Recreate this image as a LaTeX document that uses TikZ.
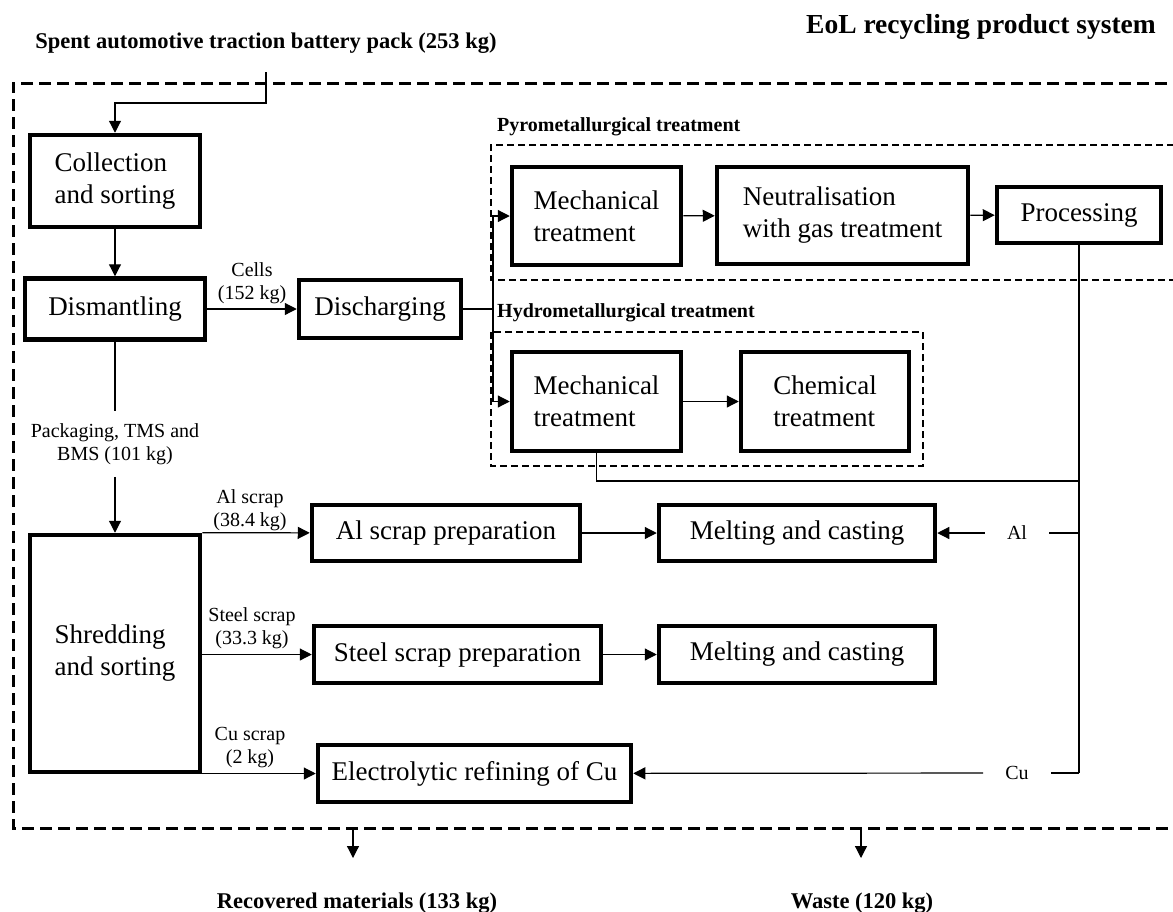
\documentclass[tikz,border=0pt]{standalone}
\usepackage{fontspec}
\setmainfont{Liberation Serif}
\usetikzlibrary{arrows.meta}
\begin{document}
\begin{tikzpicture}[x=1pt, y=-1pt,
    stage/.style={draw, line width=4.5pt, align=left, inner sep=0pt,
      font=\fontsize{27}{32}\selectfont},
    flow/.style={-{Triangle[length=12pt, width=12pt]}, line width=1.2pt},
    wire/.style={line width=1.2pt},
    tag/.style={align=center, font=\fontsize{20}{23}\selectfont},
    head/.style={font=\bfseries\fontsize{22.5}{26}\selectfont},
    groupname/.style={anchor=west, inner sep=0pt, font=\bfseries\fontsize{20}{24}\selectfont},
    bound/.style={line width=3pt, dash pattern=on 12pt off 6pt},
    subbound/.style={line width=2pt, dash pattern=on 7pt off 4pt}]
  \useasboundingbox (0,0) rectangle (1173,911);

  % Headings
  \node[head, font=\bfseries\fontsize{27.5}{32}\selectfont] (title) at (981,27) {EoL recycling product system};
  \node[head] (spent) at (266,43) {Spent automotive traction battery pack (253 kg)};

  % System boundary and treatment routes
  \draw[bound] (1185,83) -- (13,83) -- (13,828) -- (1185,828);
  \draw[subbound] (1185,145) -- (491,145) -- (491,280) -- (1185,280);
  \draw[subbound] (491,332) rectangle (923,466);
  \node[groupname] (pyro)  at (497,127) {Pyrometallurgical treatment};
  \node[groupname] (hydro) at (497,313) {Hydrometallurgical treatment};

  % Process steps
  \node[stage, minimum width=170pt, minimum height=92pt]  (coll)   at (115,181)     {Collection\\and sorting};
  \node[stage, minimum width=180pt, minimum height=61pt]  (dism)   at (115,309)     {Dismantling};
  \node[stage, minimum width=162pt, minimum height=58pt]  (disch)  at (380,309)     {Discharging};
  \node[stage, minimum width=169pt, minimum height=98pt]  (pmech)  at (596.5,216)   {Mechanical\\treatment};
  \node[stage, minimum width=251pt, minimum height=97pt]  (neut)   at (842.5,215.5) {Neutralisation\\with gas treatment};
  \node[stage, minimum width=164pt, minimum height=56pt]  (proc)   at (1079,215)    {Processing};
  \node[stage, minimum width=169pt, minimum height=99pt]  (hmech)  at (596.5,401.5) {Mechanical\\treatment};
  \node[stage, minimum width=168pt, minimum height=99pt]  (chem)   at (825,401.5)   {Chemical\\treatment};
  \node[stage, minimum width=170pt, minimum height=237pt] (shred)  at (115,653.5)   {Shredding\\and sorting};
  \node[stage, minimum width=268pt, minimum height=56pt]  (alprep) at (446,533)     {Al scrap preparation};
  \node[stage, minimum width=276pt, minimum height=56pt]  (melta)  at (797,533)     {Melting and casting};
  \node[stage, minimum width=287pt, minimum height=57pt]  (stprep) at (457.5,654.5) {Steel scrap preparation};
  \node[stage, minimum width=276pt, minimum height=57pt]  (meltb)  at (797,654.5)   {Melting and casting};
  \node[stage, minimum width=313pt, minimum height=57pt]  (elec)   at (474.5,773.5) {Electrolytic refining of Cu};

  % Flow labels
  \node[tag] (cells)   at (252,283) {Cells\\(152 kg)};
  \node[tag, inner ysep=12pt] (pack) at (115,444) {Packaging, TMS and\\BMS (101 kg)};
  \node[tag] (alscrap) at (250,510) {Al scrap\\(38.4 kg)};
  \node[tag] (stscrap) at (252,628) {Steel scrap\\(33.3 kg)};
  \node[tag] (cuscrap) at (250,748) {Cu scrap\\(2 kg)};
  \node[tag, inner xsep=22pt] (al) at (1017,533) {Al};
  \node[tag, inner xsep=22pt] (cu) at (1017,773) {Cu};
  \node[head] (recov) at (357,903) {Recovered materials (133 kg)};
  \node[head] (waste) at (862,903) {Waste (120 kg)};

  % Bends and free ends
  \coordinate (entry)     at (266,72);
  \coordinate (bend)      at (115,103);
  \coordinate (split)     at (493,309);
  \coordinate (join)      at (1079,481);
  \coordinate (alin)      at (1079,533);
  \coordinate (cuin)      at (1079,773);
  \coordinate (recovtop)  at (353,828);
  \coordinate (recovend)  at (353,858);
  \coordinate (wastetop)  at (861,828);
  \coordinate (wasteend)  at (861,858);

  % Connectors
  \draw[flow] (entry) |- (bend) -- (coll.north);
  \draw[flow] (coll) -- (dism);
  \draw[flow] (dism) -- (disch);
  \draw[wire] (disch) -- (split);
  \draw[flow] (split) |- (pmech.west);
  \draw[flow] (split) |- (hmech.west);
  \draw[flow] (pmech) -- (neut);
  \draw[flow] (neut) -- (proc);
  \draw[flow] (hmech) -- (chem);
  \draw[wire] (proc) -- (cuin);
  \draw[wire] (hmech) |- (join);
  \draw[wire] (alin) -- (al);
  \draw[flow] (al) -- (melta);
  \draw[wire] (cuin) -- (cu);
  \draw[flow] (cu) -- (elec);
  \draw[wire] (dism) -- (pack);
  \draw[flow] (pack) -- (shred);
  \draw[flow] (shred.north east) -- (alprep);
  \draw[flow] (shred.east |- stprep.west) -- (stprep.west);
  \draw[flow] (shred.east |- elec.west) -- (elec.west);
  \draw[flow] (alprep) -- (melta);
  \draw[flow] (stprep) -- (meltb);
  \draw[flow] (recovtop) -- (recovend);
  \draw[flow] (wastetop) -- (wasteend);
\end{tikzpicture}
\end{document}
